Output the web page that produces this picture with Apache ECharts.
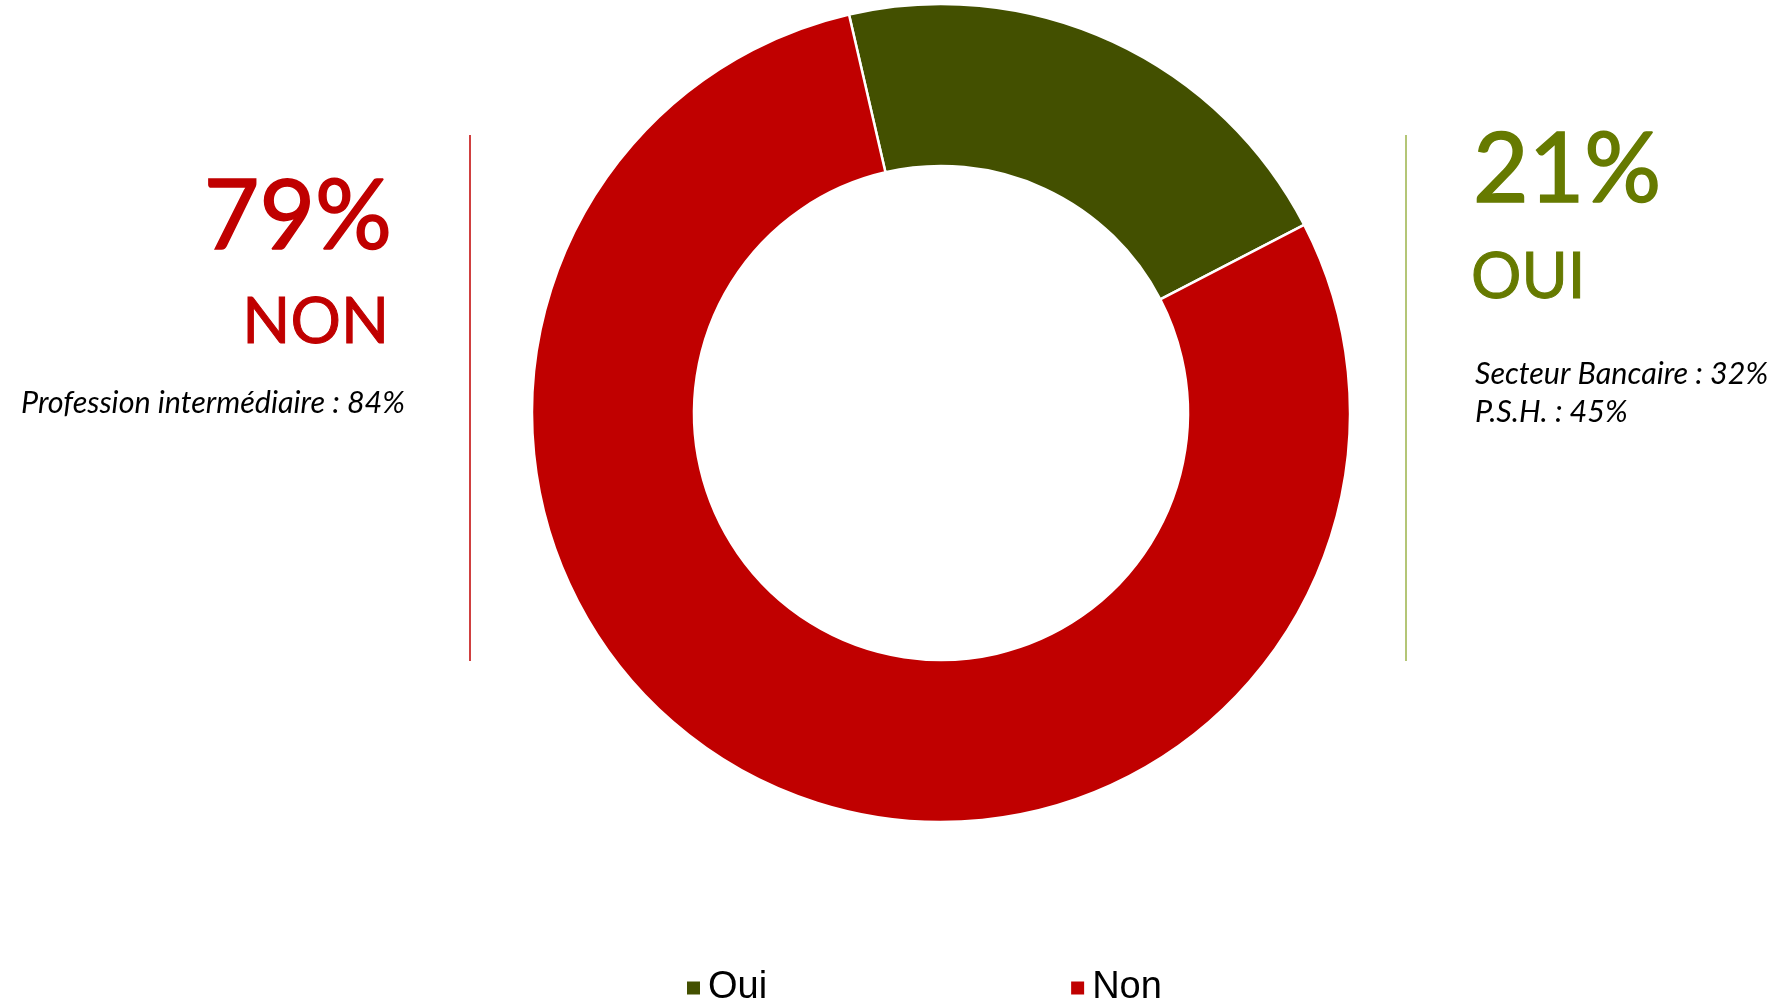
<!DOCTYPE html>
<html>
<head>
<meta charset="utf-8">
<script src="https://cdn.jsdelivr.net/npm/echarts@6/dist/echarts.min.js"></script>
<style>
  html, body { margin: 0; padding: 0; background: #fff; }
  #chart { width: 1777px; height: 1003px; }
</style>
</head>
<body>
<div id="chart"></div>
<script>
// données du graphique
const categories = ['Oui', 'Non']
const values = [21, 79]
const sliceColors = ['#435000', '#C00000']

// textes annexes
const bigLabels = ['OUI', 'NON']
const detailsOui = ['Secteur Bancaire : 32%', 'P.S.H. : 45%']
const detailsNon = ['Profession intermédiaire : 84%']

const chart = echarts.init(document.getElementById('chart'))

const FONT = 'Lato, "Open Sans", sans-serif'
const red = '#C00000'
const green = '#667A00'

// texte positionné par sa ligne de base (approximatif)
function txt(x, baseline, text, size, color, align, italic, thick) {
  return {
    type: 'text',
    style: {
      x: x,
      y: baseline + size * 0.2,
      text: text,
      fill: color,
      stroke: thick ? color : null,
      lineWidth: thick || 0,
      align: align,
      verticalAlign: 'bottom',
      font: (italic ? 'italic ' : '') + size + 'px ' + FONT,
      lineHeight: size
    }
  }
}

const graphics = [
  // lignes verticales
  { type: 'line', shape: { x1: 470, y1: 135, x2: 470, y2: 661 }, style: { stroke: red, lineWidth: 1.5 } },
  { type: 'line', shape: { x1: 1406, y1: 135, x2: 1406, y2: 661 }, style: { stroke: '#9BB34A', lineWidth: 1.5 } },
  // côté NON
  txt(392, 247, values[1] + '%', 96, red, 'right', false, 1.6),
  txt(389, 342, bigLabels[1], 63, red, 'right', false, 1),
  // côté OUI
  txt(1473, 200, values[0] + '%', 96, green, 'left', false, 1.6),
  txt(1471, 297, bigLabels[0], 63, green, 'left', false, 1)
]
detailsNon.forEach((t, i) => graphics.push(txt(405, 412 + i * 37, t, 30.5, '#000', 'right', true)))
detailsOui.forEach((t, i) => graphics.push(txt(1475, 383 + i * 38, t, 30.5, '#000', 'left', true)))

chart.setOption({
  backgroundColor: '#fff',
  animation: false,
  legend: {
    data: categories,
    left: 680,
    top: 964,
    icon: 'rect',
    itemWidth: 15,
    itemHeight: 15,
    itemGap: 302,
    textStyle: {
      fontFamily: '"Liberation Sans", Arial, sans-serif',
      fontSize: 38,
      color: '#000',
      padding: [0, 0, 0, 2]
    }
  },
  graphic: graphics,
  series: [
    {
      type: 'pie',
      center: [941, 413],
      radius: [247, 409],
      startAngle: 103,
      clockwise: true,
      label: { show: false },
      labelLine: { show: false },
      itemStyle: { borderColor: '#fff', borderWidth: 2.5 },
      emphasis: { disabled: true },
      data: categories.map((c, i) => ({
        name: c,
        value: values[i],
        itemStyle: { color: sliceColors[i] }
      }))
    }
  ]
})
</script>
</body>
</html>
